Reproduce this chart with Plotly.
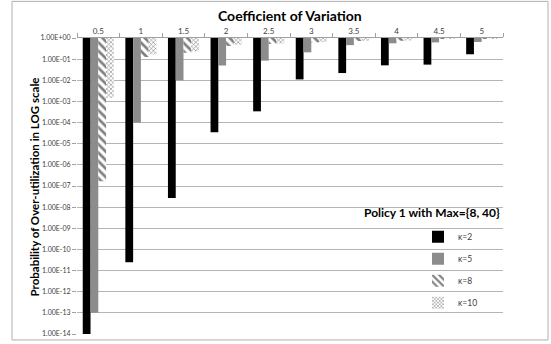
import plotly.graph_objects as go

categories = ["0.5", "1", "1.5", "2", "2.5", "3", "3.5", "4", "4.5", "5"]

k2 = [1e-14, 2.5e-11, 2.7e-8, 3.5e-5, 3.4e-4, 1.1e-2, 2.2e-2, 5.1e-2, 5.5e-2, 1.7e-1]
k5 = [1e-13, 1e-4, 1e-2, 5e-2, 8.5e-2, 2.1e-1, 4.6e-1, 5.6e-1, 6.2e-1, 6.5e-1]
k8 = [1.7e-7, 1.26e-1, 2e-1, 4.2e-1, 5.2e-1, 6.2e-1, 7.2e-1, 7.4e-1, 9e-1, 0.97]
k10 = [1.5e-3, 1.7e-1, 2.3e-1, 4.8e-1, 5.5e-1, 6.5e-1, 7.4e-1, 7.6e-1, 9e-1, 0.97]

series_names = ["\u03ba=2", "\u03ba=5", "\u03ba=8", "\u03ba=10"]
series_values = [k2, k5, k8, k10]

tick_exponents = list(range(0, -15, -1))
tick_values = [10.0 ** e for e in tick_exponents]
tick_labels = ["1.00E+00"] + ["1.00E-%02d" % (-e) for e in tick_exponents[1:]]

legend_title = "Policy 1 with Max={8, 40}"
x_title = "Coefficient of Variation"
y_title = "Probability of Over-utilization in LOG scale"

FONT = "Lato, 'Open Sans', sans-serif"

styles = [
    dict(color="#000000", pattern=dict(shape="")),
    dict(color="#8c8c8c", pattern=dict(shape="")),
    dict(color="#ffffff", pattern=dict(shape="\\", fgcolor="#000000", bgcolor="#ffffff",
                                       size=6, solidity=0.45, fillmode="overlay")),
    dict(color="#ffffff", pattern=dict(shape="x", fgcolor="#000000", bgcolor="#ffffff",
                                       size=3, solidity=0.35, fillmode="overlay")),
]

fig = go.Figure()
for i, (name, vals) in enumerate(zip(series_names, series_values)):
    fig.add_trace(go.Bar(
        x=categories,
        y=[v - 1.0 for v in vals],
        base=[1.0] * len(vals),
        name=name,
        legendgroup=name,
        marker=dict(color=styles[i]["color"], pattern=styles[i]["pattern"],
                    line=dict(width=0)),
    ))

L, R, T, B = 77, 48, 38, 7
W, H = 551, 344
pw, ph = W - L - R, H - T - B

def px_x(px):
    return (px - L) / pw

def px_y(py):
    return (H - B - py) / ph

fig.update_layout(
    width=W, height=H,
    margin=dict(l=L, r=R, t=T, b=B),
    paper_bgcolor="white", plot_bgcolor="white",
    barmode="group", bargap=0.27, bargroupgap=0,
    font=dict(family=FONT, color="#404040", size=8),
    showlegend=True,
    legend=dict(x=px_x(418), y=px_y(224), xanchor="left", yanchor="top",
                font=dict(size=8.5, color="#404040", family=FONT),
                tracegroupgap=3, bgcolor="rgba(0,0,0,0)", itemwidth=30),
    xaxis=dict(
        type="category", side="top", showline=True, linecolor="#a0a0a0", linewidth=1,
        ticks="outside", tickson="boundaries", ticklen=4, tickcolor="#a0a0a0",
        tickfont=dict(size=8, color="#404040", family=FONT),
        showgrid=False, zeroline=False, fixedrange=True,
    ),
    yaxis=dict(
        type="log", range=[-14, 0], tickvals=tick_values, ticktext=tick_labels,
        showgrid=True, gridcolor="#b4b4b4", gridwidth=1,
        ticks="outside", ticklen=4, tickcolor="#a0a0a0",
        tickfont=dict(size=7, color="#404040", family=FONT),
        showline=False, zeroline=False,
    ),
    annotations=[
        dict(text="<b>%s</b>" % x_title, xref="paper", yref="paper",
             x=0.5, y=px_y(15), xanchor="center", yanchor="middle", showarrow=False,
             font=dict(size=14, color="#000000", family=FONT)),
        dict(text="<b>%s</b>" % y_title, xref="paper", yref="paper",
             x=px_x(34), y=px_y(189), xanchor="center", yanchor="middle", showarrow=False,
             textangle=-90, font=dict(size=11.5, color="#000000", family=FONT)),
        dict(text="<b>%s</b>" % legend_title, xref="paper", yref="paper",
             x=px_x(502), y=px_y(214), xanchor="right", yanchor="middle", showarrow=False,
             font=dict(size=12, color="#000000", family=FONT)),
    ],
    shapes=[
        dict(type="rect", xref="paper", yref="paper",
             x0=px_x(12), x1=px_x(548), y0=px_y(343), y1=px_y(1),
             line=dict(color="#b0b0b0", width=1), fillcolor="rgba(0,0,0,0)", layer="below"),
    ],
)

fig.write_html("out.html")
